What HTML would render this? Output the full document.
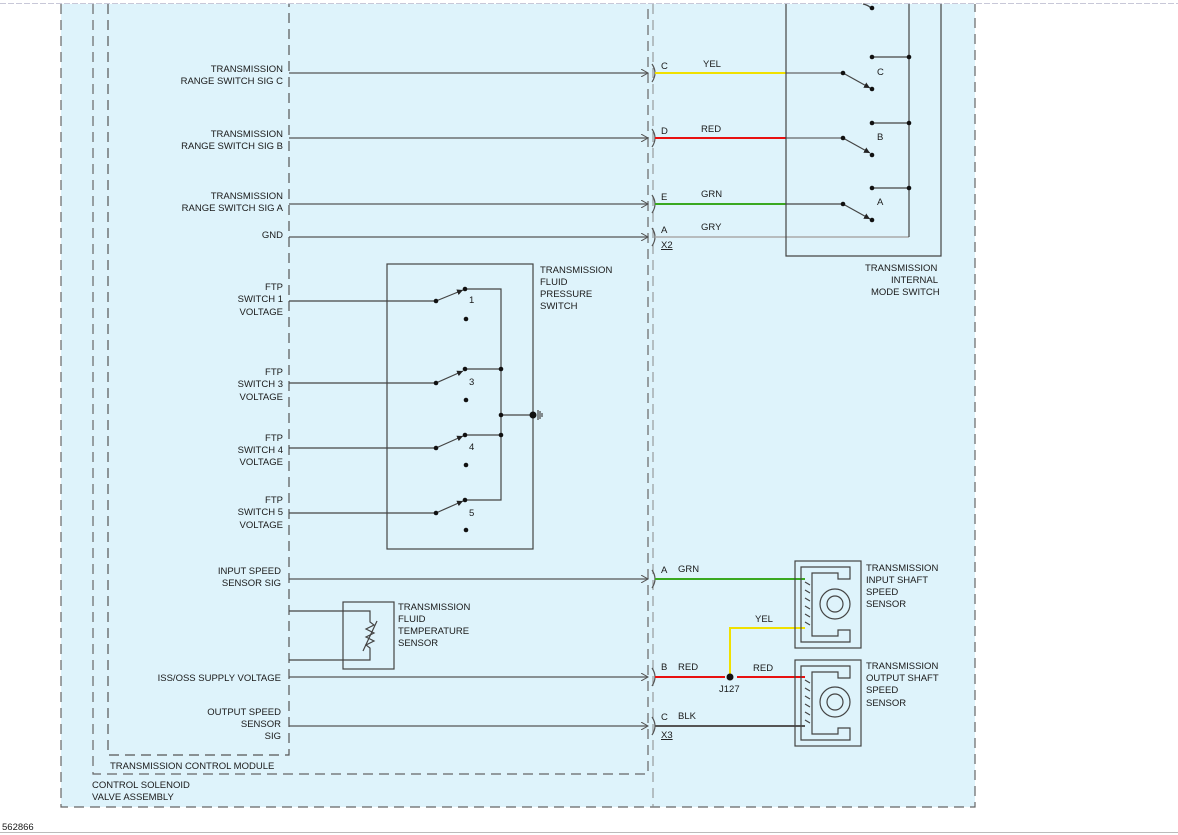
<!DOCTYPE html>
<html><head><meta charset="utf-8">
<style>
html,body{margin:0;padding:0;background:#fff;}
svg{display:block;}
text{font-family:"Liberation Sans",Arial,sans-serif;font-size:9.5px;fill:#1a1a1a;}
</style></head>
<body>
<svg width="1178" height="835" viewBox="0 0 1178 835" xmlns="http://www.w3.org/2000/svg">
<defs>
<marker id="ar" markerWidth="8" markerHeight="8" refX="7" refY="4" orient="auto" markerUnits="userSpaceOnUse">
<path d="M0,0 L7,4 L0,8" fill="none" stroke="#555" stroke-width="1"/>
</marker>
<marker id="sa" markerWidth="8" markerHeight="8" refX="6" refY="3" orient="auto" markerUnits="userSpaceOnUse">
<path d="M0,0 L6,3 L0,6 z" fill="#222"/>
</marker>
</defs>
<rect x="0" y="0" width="1178" height="835" fill="#fff"/>
<line x1="0" y1="3.5" x2="1178" y2="3.5" stroke="#c8c8d8" stroke-dasharray="6,2"/>
<rect x="61" y="4" width="914" height="803" fill="#def3fb"/>
<path d="M61,4 V807 H975 V4" fill="none" stroke="#666" stroke-dasharray="10,6" stroke-width="1.2"/>
<path d="M93,4 V774 H648 V4" fill="none" stroke="#666" stroke-dasharray="10,6" stroke-width="1.2"/>
<path d="M108,4 V755 H289 V4" fill="none" stroke="#555" stroke-dasharray="10,6" stroke-width="1.2"/>
<line x1="653" y1="4" x2="653" y2="807" stroke="#888" stroke-dasharray="10,6"/>
<line x1="0" y1="832.5" x2="1178" y2="832.5" stroke="#bbb"/>
<text x="2" y="830">562866</text>

<g stroke="#555" stroke-width="1.2" fill="none">
<line x1="289" y1="73" x2="648" y2="73" marker-end="url(#ar)"/>
<line x1="289" y1="138" x2="648" y2="138" marker-end="url(#ar)"/>
<line x1="289" y1="204" x2="648" y2="204" marker-end="url(#ar)"/>
<line x1="289" y1="237" x2="648" y2="237" marker-end="url(#ar)"/>
<line x1="289" y1="579" x2="648" y2="579" marker-end="url(#ar)"/>
<line x1="289" y1="677" x2="648" y2="677" marker-end="url(#ar)"/>
<line x1="289" y1="726" x2="648" y2="726" marker-end="url(#ar)"/>
<path d="M652,64 q6,9 0,18"/>
<path d="M652,129 q6,9 0,18"/>
<path d="M652,195 q6,9 0,18"/>
<path d="M652,228 q6,9 0,18"/>
<path d="M652,570 q6,9 0,18"/>
<path d="M652,668 q6,9 0,18"/>
<path d="M652,717 q6,9 0,18"/>
</g>
<line x1="655" y1="73" x2="786" y2="73" stroke="#f0e000" stroke-width="2"/>
<line x1="786" y1="73" x2="843" y2="73" stroke="#666" stroke-width="1.2"/>
<line x1="655" y1="138" x2="786" y2="138" stroke="#e81010" stroke-width="2"/>
<line x1="786" y1="138" x2="843" y2="138" stroke="#666" stroke-width="1.2"/>
<line x1="655" y1="204" x2="786" y2="204" stroke="#3aa820" stroke-width="2"/>
<line x1="786" y1="204" x2="843" y2="204" stroke="#444" stroke-width="1.2"/>
<line x1="655" y1="237" x2="909" y2="237" stroke="#aaa" stroke-width="1.5"/>
<line x1="655" y1="579" x2="805" y2="579" stroke="#3aa820" stroke-width="2"/>
<line x1="655" y1="677" x2="725" y2="677" stroke="#e81010" stroke-width="2"/>
<line x1="737" y1="677" x2="805" y2="677" stroke="#e81010" stroke-width="2"/>
<path d="M730,677 V628 H805" fill="none" stroke="#f0e000" stroke-width="2"/>
<line x1="655" y1="726" x2="805" y2="726" stroke="#555" stroke-width="2"/>
<circle cx="730" cy="677" r="3.5" fill="#111"/>

<g stroke="#444" stroke-width="1.2" fill="none">
<path d="M786,4 V256 H941 V4"/>
<line x1="909" y1="4" x2="909" y2="237"/>
<line x1="872" y1="57" x2="909" y2="57"/>
<line x1="872" y1="123" x2="909" y2="123"/>
<line x1="872" y1="188" x2="909" y2="188"/>
<line x1="843" y1="73" x2="870" y2="88" marker-end="url(#sa)"/>
<line x1="843" y1="138" x2="870" y2="153" marker-end="url(#sa)"/>
<line x1="843" y1="204" x2="870" y2="219" marker-end="url(#sa)"/>
<path d="M863,4 q5,1 8,4"/>
</g>
<g fill="#111">
<circle cx="872" cy="8" r="2.3"/>
<circle cx="872" cy="57" r="2.3"/><circle cx="909" cy="57" r="2.3"/>
<circle cx="872" cy="123" r="2.3"/><circle cx="909" cy="123" r="2.3"/>
<circle cx="872" cy="188" r="2.3"/><circle cx="909" cy="188" r="2.3"/>
<circle cx="843" cy="73" r="2.3"/><circle cx="872" cy="89" r="2.3"/>
<circle cx="843" cy="138" r="2.3"/><circle cx="872" cy="155" r="2.3"/>
<circle cx="843" cy="204" r="2.3"/><circle cx="872" cy="220" r="2.3"/>
</g>
<text x="877" y="75">C</text><text x="877" y="140">B</text><text x="877" y="205">A</text>
<text x="865" y="271">TRANSMISSION</text>
<text x="891" y="283">INTERNAL</text>
<text x="871" y="295">MODE SWITCH</text>

<g stroke="#444" stroke-width="1.2" fill="none">
<rect x="387" y="264" width="146" height="285"/>
<line x1="289" y1="301" x2="436" y2="301"/>
<line x1="289" y1="383" x2="436" y2="383"/>
<line x1="289" y1="448" x2="436" y2="448"/>
<line x1="289" y1="513" x2="436" y2="513"/>
<line x1="436" y1="301" x2="463" y2="290" marker-end="url(#sa)"/>
<line x1="436" y1="383" x2="463" y2="371" marker-end="url(#sa)"/>
<line x1="436" y1="448" x2="463" y2="436" marker-end="url(#sa)"/>
<line x1="436" y1="513" x2="463" y2="501" marker-end="url(#sa)"/>
<path d="M465,289 H501 V500 H465"/>
<line x1="465" y1="369" x2="501" y2="369"/>
<line x1="465" y1="435" x2="501" y2="435"/>
<line x1="501" y1="415" x2="535" y2="415"/>
<line x1="538" y1="410" x2="538" y2="420"/>
<line x1="540" y1="411" x2="540" y2="419"/>
<line x1="542" y1="413" x2="542" y2="417"/>
</g>
<g fill="#111">
<circle cx="436" cy="301" r="2.3"/><circle cx="465" cy="289" r="2.3"/><circle cx="466" cy="319" r="2.3"/>
<circle cx="436" cy="383" r="2.3"/><circle cx="465" cy="369" r="2.3"/><circle cx="466" cy="400" r="2.3"/>
<circle cx="436" cy="448" r="2.3"/><circle cx="465" cy="435" r="2.3"/><circle cx="466" cy="465" r="2.3"/>
<circle cx="436" cy="513" r="2.3"/><circle cx="465" cy="500" r="2.3"/><circle cx="466" cy="530" r="2.3"/>
<circle cx="501" cy="369" r="2.3"/><circle cx="501" cy="435" r="2.3"/><circle cx="501" cy="415" r="2.3"/>
<circle cx="533" cy="415" r="3.5"/>
</g>
<text x="469" y="303">1</text><text x="469" y="385">3</text><text x="469" y="450">4</text><text x="469" y="516">5</text>
<text x="540" y="273">TRANSMISSION</text>
<text x="540" y="285">FLUID</text>
<text x="540" y="297">PRESSURE</text>
<text x="540" y="309">SWITCH</text>

<g stroke="#444" stroke-width="1.2" fill="none">
<rect x="343" y="602" width="51" height="67"/>
<path d="M289,611 H370 V622 l4,3 l-8,4 l8,4 l-8,4 l8,4 l-8,4 l4,3 V660 H289"/>
<line x1="363" y1="651" x2="377" y2="621"/>
</g>
<text x="398" y="610">TRANSMISSION</text>
<text x="398" y="622">FLUID</text>
<text x="398" y="634">TEMPERATURE</text>
<text x="398" y="646">SENSOR</text>

<g stroke="#444" stroke-width="1.2" fill="none">
<rect x="795" y="561" width="66" height="87"/>
<path d="M801,567 H850 V579 H838 V573 H812 V636 H838 V630 H850 V642 H801 Z"/>
<circle cx="835" cy="604" r="15"/>
<circle cx="835" cy="604" r="8"/>
<rect x="795" y="660" width="66" height="86"/>
<path d="M801,666 H850 V678 H838 V672 H812 V734 H838 V728 H850 V740 H801 Z"/>
<circle cx="835" cy="702" r="15"/>
<circle cx="835" cy="702" r="8"/>
<path d="M805,582 l5,3 M805,590 l5,3 M805,598 l5,3 M805,606 l5,3 M805,614 l5,3 M805,622 l5,3"/>
<path d="M805,680 l5,3 M805,688 l5,3 M805,696 l5,3 M805,704 l5,3 M805,712 l5,3 M805,720 l5,3"/>
</g>
<text x="866" y="571">TRANSMISSION</text>
<text x="866" y="583">INPUT SHAFT</text>
<text x="866" y="595">SPEED</text>
<text x="866" y="607">SENSOR</text>
<text x="866" y="669">TRANSMISSION</text>
<text x="866" y="681">OUTPUT SHAFT</text>
<text x="866" y="693">SPEED</text>
<text x="866" y="706">SENSOR</text>

<text x="661" y="69">C</text><text x="703" y="67">YEL</text>
<text x="661" y="134">D</text><text x="701" y="132">RED</text>
<text x="661" y="200">E</text><text x="701" y="197">GRN</text>
<text x="661" y="233">A</text><text x="701" y="230">GRY</text>
<text x="661" y="248" text-decoration="underline">X2</text>
<text x="661" y="573">A</text><text x="678" y="572">GRN</text>
<text x="755" y="622">YEL</text>
<text x="661" y="670">B</text><text x="678" y="670">RED</text>
<text x="753" y="671">RED</text>
<text x="719" y="692">J127</text>
<text x="661" y="720">C</text><text x="678" y="719">BLK</text>
<text x="661" y="738" text-decoration="underline">X3</text>

<g text-anchor="end">
<text x="283" y="72">TRANSMISSION</text>
<text x="283" y="84">RANGE SWITCH SIG C</text>
<text x="283" y="137">TRANSMISSION</text>
<text x="283" y="149">RANGE SWITCH SIG B</text>
<text x="283" y="199">TRANSMISSION</text>
<text x="283" y="211">RANGE SWITCH SIG A</text>
<text x="283" y="238">GND</text>
<text x="283" y="290">FTP</text>
<text x="283" y="302">SWITCH 1</text>
<text x="283" y="315">VOLTAGE</text>
<text x="283" y="375">FTP</text>
<text x="283" y="387">SWITCH 3</text>
<text x="283" y="400">VOLTAGE</text>
<text x="283" y="441">FTP</text>
<text x="283" y="453">SWITCH 4</text>
<text x="283" y="465">VOLTAGE</text>
<text x="283" y="503">FTP</text>
<text x="283" y="515">SWITCH 5</text>
<text x="283" y="528">VOLTAGE</text>
<text x="281" y="574">INPUT SPEED</text>
<text x="281" y="586">SENSOR SIG</text>
<text x="281" y="681">ISS/OSS SUPPLY VOLTAGE</text>
<text x="281" y="715">OUTPUT SPEED</text>
<text x="281" y="727">SENSOR</text>
<text x="281" y="739">SIG</text>
</g>
<text x="110" y="769">TRANSMISSION CONTROL MODULE</text>
<text x="92" y="788">CONTROL SOLENOID</text>
<text x="92" y="800">VALVE ASSEMBLY</text>
</svg>
</body></html>
